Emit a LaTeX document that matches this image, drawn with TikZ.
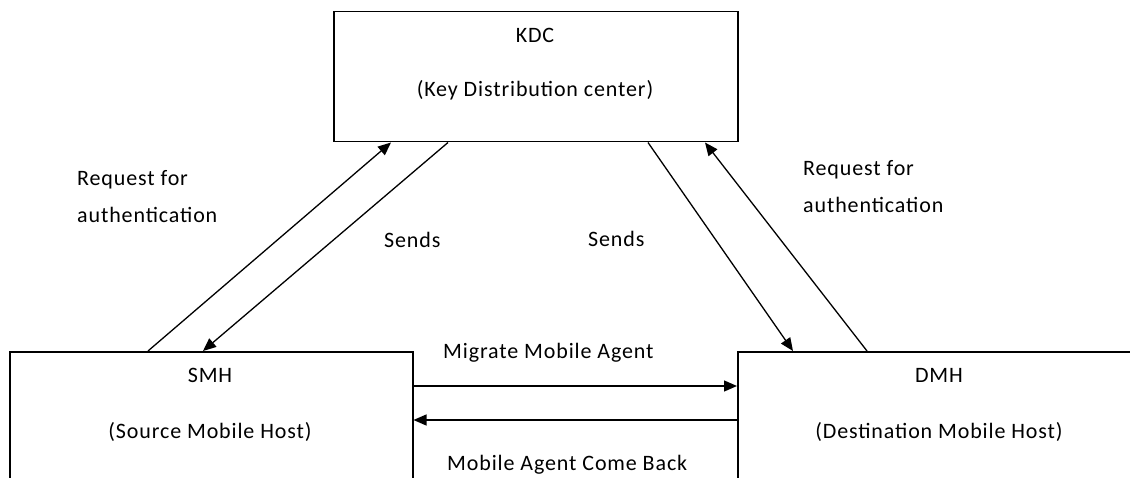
\documentclass[tikz,border=0pt]{standalone}
\usepackage{fontspec}
\setmainfont{Carlito}[LetterSpace=4]
\usepackage{xcolor}
\usetikzlibrary{calc,arrows.meta}

\tikzset{
	hostbox/.style={draw,line width=1.5pt,inner sep=0pt,anchor=north west},
	msg/.style={-{Triangle[length=13pt,width=11pt]},line width=1.3pt},
	txt/.style={font=\fontsize{22}{37}\selectfont,inner sep=0pt}
}

\begin{document}
\begin{tikzpicture}[x=1pt,y=-1pt]
			\clip (0,0) rectangle (1130,478);
			\node[hostbox,minimum width=404pt,minimum height=130pt] (kdc) at (333,11) {};
			\node[hostbox,minimum width=403pt,minimum height=200pt] (smh) at (9,351) {};
			\node[hostbox,minimum width=500pt,minimum height=200pt] (dmh) at (737,351) {};

			\node[txt,anchor=base] (kdcname) at (535,43) {KDC};
			\node[txt,anchor=base] (kdcfull) at (535,97) {(Key Distribution center)};
			\node[txt,anchor=base] (smhname) at (210,382) {SMH};
			\node[txt,anchor=base] (smhfull) at (210,438) {(Source Mobile Host)};
			\node[txt,anchor=base] (dmhname) at (939,382) {DMH};
			\node[txt,anchor=base] (dmhfull) at (939,438) {(Destination Mobile Host)};

			\node[txt,anchor=base west,align=left] (reqleft) at (77,223) {Request for\\authentication};
			\node[txt,anchor=base west,align=left] (reqright) at (803,213) {Request for\\authentication};
			\node[txt,anchor=base west] (sendleft) at (384,248) {Sends};
			\node[txt,anchor=base west] (sendright) at (588,247) {Sends};
			\node[txt,anchor=base west] (migrate) at (443,359) {Migrate Mobile Agent};
			\node[txt,anchor=base west] (comeback) at (447,470) {Mobile Agent Come Back};

			\draw[msg] ($(smh.north west)+(139,0)$) -- ($(kdc.south west)+(58,0)$);
			\draw[msg] ($(kdc.south west)+(115,0)$) -- ($(smh.north west)+(194,0)$);
			\draw[msg] ($(kdc.south west)+(315,0)$) -- ($(dmh.north west)+(56,0)$);
			\draw[msg] ($(dmh.north west)+(130,0)$) -- ($(kdc.south west)+(372,0)$);
			\draw[msg] ($(smh.north east)+(0,35)$) -- ($(dmh.north west)+(0,35)$);
			\draw[msg] ($(dmh.north west)+(0,69)$) -- ($(smh.north east)+(0,69)$);
		\end{tikzpicture}
\end{document}
